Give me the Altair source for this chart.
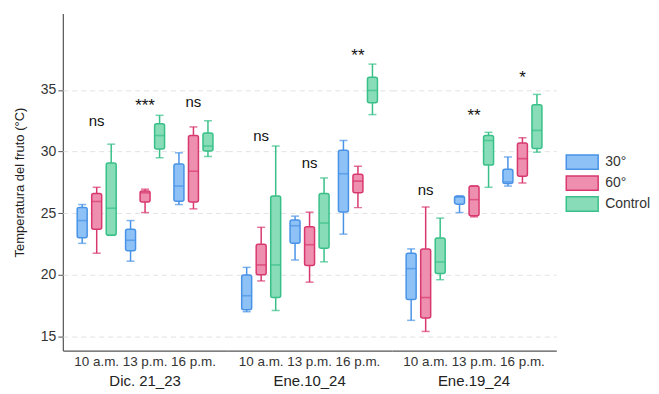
import altair as alt
import pandas as pd

dates = ["Dic. 21_23", "Ene.10_24", "Ene.19_24"]
times = ["10 a.m.", "13 p.m.", "16 p.m."]
treatments = ["30°", "60°", "Control"]

# order: date -> time -> treatment (30°, 60°, Control)
whisker_low = [
    22.55, 21.75, 23.2,   21.1, 25.05, 29.5,   25.7, 25.35, 29.6,
    17.0, 19.5, 17.1,     21.2, 19.4, 21.05,   23.3, 25.45, 33.0,
    16.3, 15.4, 19.6,     25.05, 24.7, 27.1,   27.2, 27.45, 29.95,
]
q1 = [
    23.0, 23.7, 23.2,     21.95, 25.9, 30.2,   25.97, 25.9, 30.05,
    17.16, 20.0, 18.15,   22.55, 20.75, 22.15, 25.1, 26.65, 33.96,
    18.0, 16.5, 20.1,     25.73, 24.8, 28.9,   27.4, 28.0, 30.24,
]
median = [
    24.4, 25.95, 25.4,    22.8, 26.65, 31.3,   27.2, 28.4, 30.45,
    18.3, 20.8, 20.8,     23.98, 22.44, 24.2,  28.2, 27.6, 34.96,
    20.5, 18.15, 21.04,   26.3, 26.1, 30.9,    27.54, 29.43, 31.72,
]
q3 = [
    25.47, 26.6, 29.08,   23.7, 26.8, 32.26,   29.0, 31.3, 31.5,
    19.98, 22.47, 26.4,   24.44, 23.9, 26.6,   30.1, 28.16, 36.04,
    21.74, 22.1, 22.98,   26.38, 27.2, 31.3,   28.56, 30.7, 33.8,
]
whisker_high = [
    25.7, 27.1, 30.6,     24.4, 26.95, 32.94,  29.9, 32.0, 32.5,
    20.6, 23.85, 30.45,   24.76, 25.08, 27.86, 30.9, 28.8, 37.1,
    22.1, 25.5, 24.6,     26.4, 27.2, 31.56,   29.56, 31.13, 34.64,
]

# significance label per date -> time
sig_labels = ["ns", "***", "ns", "ns", "ns", "**", "ns", "**", "*"]
sig_y = [32.5, 34.0, 34.0, 31.3, 29.1, 38.1, 26.9, 33.2, 36.3]

fill_colors = ["#8ec1f6", "#ee8fb0", "#88dcb8"]
stroke_colors = ["#4893e6", "#d8386e", "#38c088"]

rows = []
i = 0
for di, d in enumerate(dates):
    for ti, t in enumerate(times):
        for tr in treatments:
            rows.append({
                "date": d, "time": t, "treatment": tr,
                "wl": whisker_low[i], "q1": q1[i], "med": median[i],
                "q3": q3[i], "wh": whisker_high[i],
                "sig": sig_labels[di * 3 + ti], "sig_y": sig_y[di * 3 + ti],
            })
            i += 1
df = pd.DataFrame(rows)

FONT = "Liberation Sans"

x_enc = alt.X("time:N", sort=times, title=None,
              scale=alt.Scale(paddingInner=0.1, paddingOuter=0.25),
              axis=alt.Axis(labelAngle=0, ticks=False, grid=False, labelFontSize=13.5,
                            labelColor="#333", labelFont=FONT, labelPadding=4,
                            domainColor="#555", domainWidth=1.2))
xo_enc = alt.XOffset("treatment:N", sort=treatments,
                     scale=alt.Scale(domain=treatments))
yscale = alt.Scale(domain=[13.85, 41.2], nice=False, zero=False)
y_axis = alt.Axis(values=[15, 20, 25, 30, 35], title="Temperatura del fruto (°C)",
                  titleFont=FONT, titleFontSize=13, titleFontWeight="normal",
                  titleColor="#222", titlePadding=14,
                  labelFont=FONT, labelFontSize=14, labelColor="#333",
                  grid=True, gridDash=[5, 4], gridColor="#e2e2e2",
                  domainColor="#555", domainWidth=1.2, tickColor="#555", tickSize=5)

fill_scale = alt.Scale(domain=treatments, range=fill_colors)
stroke_scale = alt.Scale(domain=treatments, range=stroke_colors)

legend = alt.Legend(title=" ", titleFontSize=10, titlePadding=130,
                    orient="right", offset=17,
                    symbolType="M-2,-0.9H2V0.9H-2Z", symbolSize=256,
                    symbolStrokeWidth=1.5, labelFont=FONT, labelFontSize=14,
                    labelColor="#333", rowPadding=-1, labelOffset=14)

stroke_enc = alt.Stroke("treatment:N", scale=stroke_scale, legend=legend)

lower = alt.Chart().mark_rule(strokeWidth=1.5).encode(
    x=x_enc, xOffset=xo_enc,
    y=alt.Y("wl:Q", scale=yscale, axis=y_axis), y2="q1:Q",
    stroke=stroke_enc)
upper = alt.Chart().mark_rule(strokeWidth=1.5).encode(
    x=x_enc, xOffset=xo_enc, y=alt.Y("q3:Q"), y2="wh:Q",
    stroke=stroke_enc)
cap_lo = alt.Chart().mark_tick(size=8, thickness=1.5).encode(
    x=x_enc, xOffset=xo_enc, y=alt.Y("wl:Q"),
    color=alt.Color("treatment:N", scale=stroke_scale, legend=None))
cap_hi = alt.Chart().mark_tick(size=8, thickness=1.5).encode(
    x=x_enc, xOffset=xo_enc, y=alt.Y("wh:Q"),
    color=alt.Color("treatment:N", scale=stroke_scale, legend=None))
box = alt.Chart().mark_bar(size=10, strokeWidth=1.5, cornerRadius=2).encode(
    x=x_enc, xOffset=xo_enc, y=alt.Y("q1:Q"), y2="q3:Q",
    fill=alt.Fill("treatment:N", scale=fill_scale, legend=legend),
    stroke=stroke_enc)
med = alt.Chart().mark_tick(size=10, thickness=1.6).encode(
    x=x_enc, xOffset=xo_enc, y=alt.Y("med:Q"),
    color=alt.Color("treatment:N", scale=stroke_scale, legend=None))
txt_ns = alt.Chart().transform_filter(
    "datum.treatment == '60°' && datum.sig == 'ns'"
).mark_text(font=FONT, fontSize=15, color="#111", baseline="middle").encode(
    x=x_enc, y=alt.Y("sig_y:Q"), text="sig:N")
txt_star = alt.Chart().transform_filter(
    "datum.treatment == '60°' && datum.sig != 'ns'"
).mark_text(font=FONT, fontSize=17, color="#111", baseline="middle", dy=4).encode(
    x=x_enc, y=alt.Y("sig_y:Q"), text="sig:N")

layered = alt.layer(box, lower, upper, cap_lo, cap_hi, med, txt_ns, txt_star, data=df
                    ).properties(width=165, height=338)

chart = layered.facet(
    column=alt.Column("date:N", sort=dates,
                      header=alt.Header(title=None, labelOrient="bottom",
                                        labelFont=FONT, labelFontSize=15,
                                        labelColor="#222", labelPadding=6)),
    spacing=0,
).properties(
    padding={"left": 5, "top": 5, "right": 0, "bottom": 5}
).configure_view(stroke=None, strokeWidth=0)

chart.save("out.html", embed_options={"renderer": "svg", "actions": False})
